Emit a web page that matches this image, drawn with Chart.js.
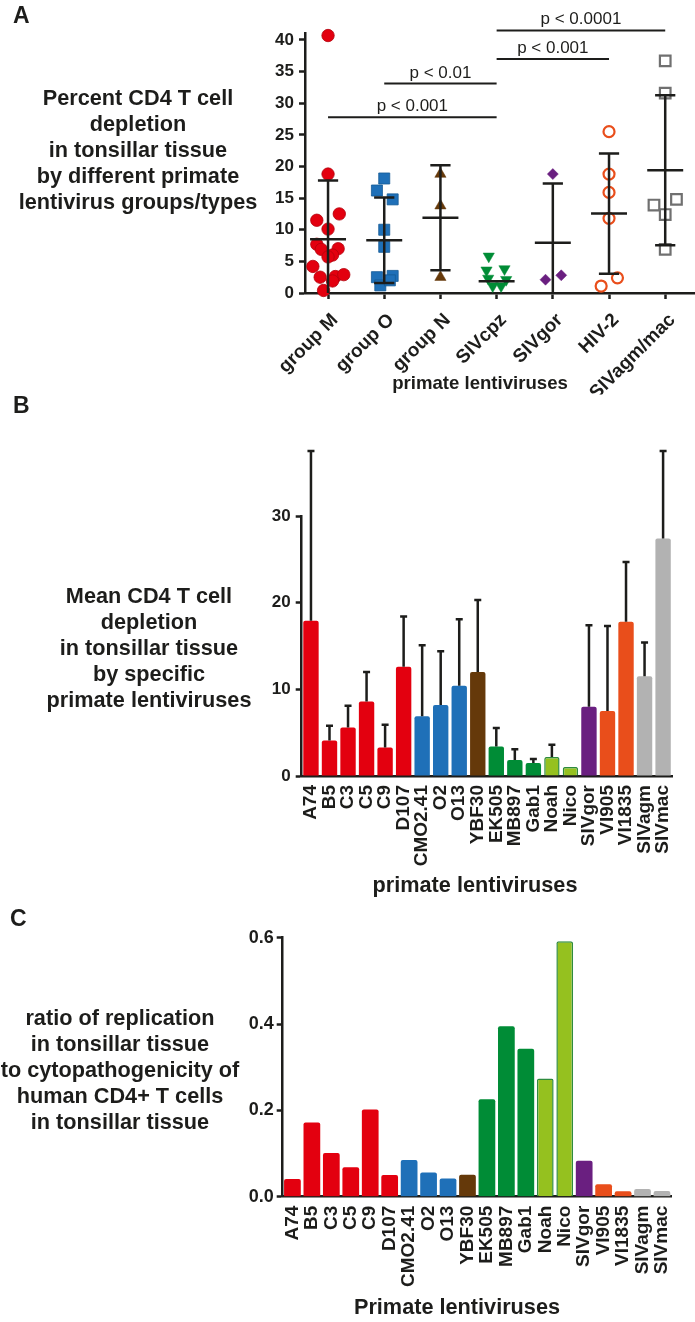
<!DOCTYPE html>
<html lang="en">
<head>
<meta charset="UTF-8">
<title>CD4 T cell depletion by primate lentiviruses</title>
<script src="https://cdn.jsdelivr.net/npm/chart.js"></script>
<style>
  body { margin: 0; background: #fff; }
  #page { position: relative; width: 695px; height: 1322px; overflow: hidden;
          font-family: "Liberation Sans", Arial, sans-serif; color: #1d1d1b; }
  .letter { position: absolute; font-weight: bold; font-size: 23px; line-height: 1; }
  .side { position: absolute; text-align: center; font-weight: bold; font-size: 21.7px; line-height: 26px; white-space: nowrap; }
  .xtitle { position: absolute; width: 300px; text-align: center; font-weight: bold; font-size: 21.7px; line-height: 26px; white-space: nowrap; }
  canvas { position: absolute; left: 0; }
</style>
</head>
<body>
<div id="page">
  <canvas id="chartA" width="695" height="420" style="top:0"></canvas>
  <canvas id="chartB" width="695" height="470" style="top:440px"></canvas>
  <canvas id="chartC" width="695" height="417" style="top:905px"></canvas>

  <div class="letter" style="left:13px; top:4px">A</div>
  <div class="side" style="left:3px; top:85px; width:270px">Percent CD4 T cell<br>depletion<br>in tonsillar tissue<br>by different primate<br>lentivirus groups/types</div>

  <div class="letter" style="left:13px; top:394px">B</div>
  <div class="side" style="left:4px; top:583px; width:290px">Mean CD4 T cell<br>depletion<br>in tonsillar tissue<br>by specific<br>primate lentiviruses</div>

  <div class="letter" style="left:10px; top:907px">C</div>
  <div class="side" style="left:-2px; top:1005px; width:244px">ratio of replication<br>in tonsillar tissue<br>to cytopathogenicity of<br>human CD4+ T cells<br>in tonsillar tissue</div>

  <div class="xtitle" style="left:330px; top:370px; font-size:18.6px">primate lentiviruses</div>
  <div class="xtitle" style="left:325px; top:872px">primate lentiviruses</div>
  <div class="xtitle" style="left:307px; top:1294px">Primate lentiviruses</div>
</div>

<script>
// ---- panel A: percent depletion per lentivirus group ----
const groups = ['group M', 'group O', 'group N', 'SIVcpz', 'SIVgor', 'HIV-2', 'SIVagm/mac'];

const groupMValues = [40.7, 18.8, 11.5, 12.5, 10.1, 7.7, 6.9, 7.0, 6.0, 5.7, 4.2, 2.5, 2.6, 2.9, 1.9, 0.4];
const groupMSpread = [0, 0, -0.2, 0.2, 0, -0.2, -0.12, 0.18, 0.08, 0, -0.27, -0.14, 0.13, 0.28, 0.08, -0.08];
const groupOValues = [18.1, 16.2, 14.8, 10.0, 7.3, 2.5, 2.7, 1.2, 2.0];
const groupOSpread = [0, -0.13, 0.15, 0, 0, -0.13, 0.15, -0.07, 0.1];
const groupNValues = [18.8, 13.8, 2.5];
const groupNSpread = [0, 0, 0];
const cpzValues = [5.8, 3.6, 3.8, 2.3, 2.1, 1.1, 1.1];
const cpzSpread = [-0.14, -0.18, 0.14, -0.15, 0.17, -0.07, 0.08];
const gorValues = [18.8, 2.1, 2.8];
const gorSpread = [0, -0.13, 0.15];
const hiv2Values = [25.5, 18.8, 15.9, 11.8, 2.4, 1.1];
const hiv2Spread = [0, 0, 0, 0, 0.15, -0.14];
const agmMacValues = [36.7, 31.6, 14.8, 13.9, 12.4, 6.9];
const agmMacSpread = [0, 0, 0.2, -0.2, 0, 0];

const groupMeans = [8.5, 8.35, 11.9, 1.85, 7.95, 12.55, 19.4];
const groupSD = [9.3, 6.75, 8.3, 0, 9.35, 9.5, 11.85];
const yTicksA = [0, 5, 10, 15, 20, 25, 30, 35, 40];

// [from group, to group, bar height, label]
const comparisons = [
  [0, 3, 27.8, 'p < 0.001'],
  [1, 3, 33.1, 'p < 0.01'],
  [3, 5, 37.0, 'p < 0.001'],
  [3, 6, 41.5, 'p < 0.0001']
];

// ---- panels B and C: individual strains ----
const strains = ['A74', 'B5', 'C3', 'C5', 'C9', 'D107', 'CMO2.41', 'O2', 'O13', 'YBF30',
                 'EK505', 'MB897', 'Gab1', 'Noah', 'Nico', 'SIVgor', 'VI905', 'VI1835', 'SIVagm', 'SIVmac'];
const strainLineage = ['M', 'M', 'M', 'M', 'M', 'M', 'O', 'O', 'O', 'N',
                       'cpzPtt', 'cpzPtt', 'cpzPtt', 'cpzPts', 'cpzPts', 'gor', 'HIV2', 'HIV2', 'agm', 'mac'];
const depletionMean = [17.9, 4.1, 5.6, 8.6, 3.3, 12.6, 6.9, 8.2, 10.4, 12.0,
                       3.4, 1.85, 1.5, 2.2, 1.05, 8.0, 7.5, 17.8, 11.5, 27.4];
const depletionSD = [19.6, 1.7, 2.5, 3.4, 2.6, 5.8, 8.2, 6.2, 7.7, 8.3,
                     2.15, 1.25, 0.47, 1.4, 0, 9.4, 9.8, 6.9, 3.9, 10.1];
const yTicksB = [0, 10, 20, 30];

const replicationRatio = [0.041, 0.172, 0.101, 0.068, 0.202, 0.050, 0.085, 0.056, 0.042, 0.051,
                          0.226, 0.395, 0.343, 0.274, 0.592, 0.083, 0.029, 0.0125, 0.018, 0.013];
const yTicksC = [0, 0.2, 0.4, 0.6];

// colours
const ink = '#1d1d1b';
const lineageColors = {
  M: '#e3000f', O: '#1f70b8', N: '#65390a', cpzPtt: '#008c36', cpzPts: '#95c11f',
  gor: '#6a1f80', HIV2: '#e94e1b', agm: '#b2b2b2', mac: '#b2b2b2'
};

Chart.defaults.font.family = '"Liberation Sans", Arial, sans-serif';
Chart.defaults.color = ink;

const boldTick = size => ({ size: size, weight: 'bold' });

function points(values, spread, idx) {
  return values.map((v, i) => ({ x: idx + spread[i], y: v }));
}

// mean +/- SD bars and the comparison brackets for panel A
const meanSdPlugin = {
  id: 'meanSd',
  afterDatasetsDraw(chart) {
    const { ctx, scales: { x, y } } = chart;
    ctx.save();
    ctx.strokeStyle = ink;
    ctx.lineWidth = 2.5;
    groupMeans.forEach((m, i) => {
      const cx = x.getPixelForValue(i);
      const half = x.getPixelForValue(i + 0.32) - cx;
      const cap = x.getPixelForValue(i + 0.18) - cx;
      const ym = y.getPixelForValue(m);
      ctx.beginPath();
      ctx.moveTo(cx - half, ym); ctx.lineTo(cx + half, ym);
      if (groupSD[i] > 0) {
        const top = y.getPixelForValue(m + groupSD[i]);
        const lowVal = m - groupSD[i];
        const bot = y.getPixelForValue(Math.max(lowVal, 0));
        ctx.moveTo(cx, top); ctx.lineTo(cx, bot);
        ctx.moveTo(cx - cap, top); ctx.lineTo(cx + cap, top);
        if (lowVal > 0) { ctx.moveTo(cx - cap, bot); ctx.lineTo(cx + cap, bot); }
      }
      ctx.stroke();
    });
    ctx.lineWidth = 2;
    ctx.font = '17px "Liberation Sans", Arial, sans-serif';
    ctx.fillStyle = ink;
    ctx.textAlign = 'center';
    ctx.textBaseline = 'alphabetic';
    comparisons.forEach(([a, b, h, label]) => {
      const x0 = x.getPixelForValue(a), x1 = x.getPixelForValue(b);
      const yy = y.getPixelForValue(h);
      ctx.beginPath();
      ctx.moveTo(x0, yy); ctx.lineTo(x1, yy);
      ctx.stroke();
      ctx.fillText(label, (x0 + x1) / 2, yy - 6);
    });
    ctx.restore();
  }
};

// upper error bars for panel B
const upperErrorPlugin = {
  id: 'upperError',
  afterDatasetsDraw(chart) {
    const { ctx, scales: { y } } = chart;
    const bars = chart.getDatasetMeta(0).data;
    ctx.save();
    ctx.strokeStyle = ink;
    ctx.lineWidth = 2.5;
    bars.forEach((bar, i) => {
      if (!depletionSD[i]) return;
      const top = y.getPixelForValue(depletionMean[i] + depletionSD[i]);
      ctx.beginPath();
      ctx.moveTo(bar.x, bar.y); ctx.lineTo(bar.x, top);
      ctx.moveTo(bar.x - 3.5, top); ctx.lineTo(bar.x + 3.5, top);
      ctx.stroke();
    });
    ctx.restore();
  }
};

function axisX(height) {
  return {
    z: 1,
    grid: { display: true, drawOnChartArea: false, drawTicks: false },
    border: { color: ink, width: 2.5 },
    ticks: { autoSkip: false, minRotation: 90, maxRotation: 90, padding: 9, font: boldTick(19), color: ink },
    afterFit: s => { s.height = height; }
  };
}

function axisY(ticks, width, max, fontSize, pad, fmt) {
  return {
    min: 0, max: max,
    afterBuildTicks: s => { s.ticks = ticks.map(v => ({ value: v })); },
    grid: { drawOnChartArea: false, drawTicks: true, tickLength: 6, tickWidth: 2.5, tickColor: ink },
    border: { color: ink, width: 2.5 },
    ticks: { padding: pad, font: boldTick(fontSize), color: ink, callback: fmt || (v => v) },
    afterFit: s => { s.width = width; }
  };
}

const common = {
  responsive: false,
  animation: false,
  events: [],
  plugins: { legend: { display: false }, tooltip: { enabled: false } }
};

// ---- chart A ----
new Chart(document.getElementById('chartA'), {
  type: 'scatter',
  data: {
    datasets: [
      { data: points(groupMValues, groupMSpread, 0), pointStyle: 'circle', radius: 6.2,
        backgroundColor: '#e3000f', borderColor: '#b3000c', borderWidth: 0.8 },
      { data: points(groupOValues, groupOSpread, 1), pointStyle: 'rect', radius: 7.8,
        backgroundColor: '#1f70b8', borderColor: '#155a96', borderWidth: 0.8 },
      { data: points(groupNValues, groupNSpread, 2), pointStyle: 'triangle', radius: 6.5,
        backgroundColor: '#65390a', borderColor: '#65390a', borderWidth: 0.5 },
      { data: points(cpzValues, cpzSpread, 3), pointStyle: 'triangle', rotation: 180, radius: 6.5,
        backgroundColor: '#008c36', borderColor: '#008c36', borderWidth: 0.5 },
      { data: points(gorValues, gorSpread, 4), pointStyle: 'rectRot', radius: 5.5,
        backgroundColor: '#6a1f80', borderColor: '#6a1f80', borderWidth: 0.5 },
      { data: points(hiv2Values, hiv2Spread, 5), pointStyle: 'circle', radius: 5.5,
        backgroundColor: '#fff', borderColor: '#e94e1b', borderWidth: 2.2 },
      { data: points(agmMacValues, agmMacSpread, 6), pointStyle: 'rect', radius: 7.5,
        backgroundColor: '#fff', borderColor: '#707070', borderWidth: 2.2 }
    ].map(d => Object.assign({ clip: false }, d))
  },
  options: Object.assign({}, common, {
    layout: { autoPadding: false, padding: { top: 33, left: 0, right: 0, bottom: 25.4 } },
    scales: {
      x: {
        type: 'linear', min: -0.41, max: 6.53,
        afterBuildTicks: s => { s.ticks = groups.map((g, i) => ({ value: i })); },
        grid: { drawOnChartArea: false, drawTicks: true, tickLength: 6, tickWidth: 2.5, tickColor: ink },
        border: { color: ink, width: 2.5 },
        ticks: { autoSkip: false, minRotation: 45, maxRotation: 45, padding: 10, labelOffset: 7,
                 font: boldTick(19), color: ink, callback: v => groups[v] },
        afterFit: s => { s.height = 101.6; }
      },
      y: axisY(yTicksA, 305, 41.1, 17, 5)
    }
  }),
  plugins: [meanSdPlugin]
});

const barColors = strainLineage.map(l => lineageColors[l]);
const barBorders = strainLineage.map(l => l === 'cpzPts' ? '#2e8b3e' : 'rgba(0,0,0,0)');
const barBorderWidths = strainLineage.map(l => l === 'cpzPts' ? 1.5 : 0);

// ---- chart B ----
new Chart(document.getElementById('chartB'), {
  type: 'bar',
  data: {
    labels: strains,
    datasets: [{
      data: depletionMean, backgroundColor: barColors, borderColor: barBorders,
      borderWidth: barBorderWidths, borderRadius: 2, barPercentage: 0.83, categoryPercentage: 1
    }]
  },
  options: Object.assign({}, common, {
    layout: { autoPadding: false, padding: { top: 76, left: 0, right: 4.4, bottom: 12.4 } },
    scales: {
      x: axisX(121.6),
      y: axisY(yTicksB, 301.7, 30, 17, 5)
    }
  }),
  plugins: [upperErrorPlugin]
});

// ---- chart C ----
new Chart(document.getElementById('chartC'), {
  type: 'bar',
  data: {
    labels: strains,
    datasets: [{
      data: replicationRatio, backgroundColor: barColors, borderColor: barBorders,
      borderWidth: barBorderWidths, borderRadius: 2, barPercentage: 0.86, categoryPercentage: 1
    }]
  },
  options: Object.assign({}, common, {
    layout: { autoPadding: false, padding: { top: 32.7, left: 0, right: 23.3, bottom: 2.7 } },
    scales: {
      x: axisX(122.6),
      y: axisY(yTicksC, 282.7, 0.6, 18, 3, v => v.toFixed(1))
    }
  })
});
</script>
</body>
</html>
